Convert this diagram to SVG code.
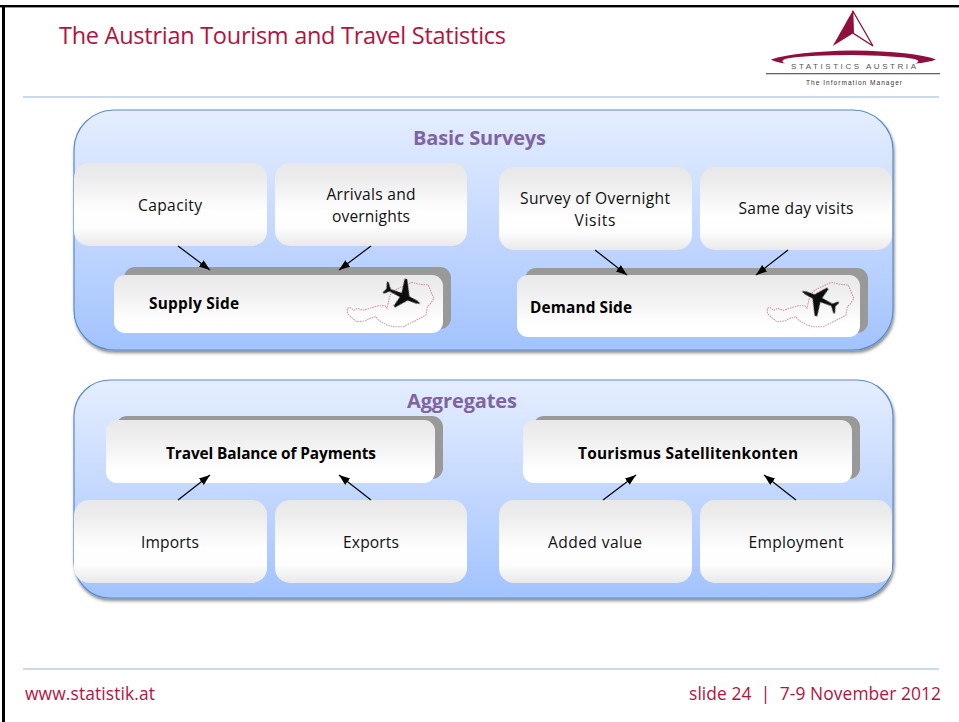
<svg xmlns="http://www.w3.org/2000/svg" width="959" height="722" viewBox="0 0 959 722">
<style>
text{font-family:"Open Sans","Liberation Sans",sans-serif}
.l{font-size:15.6px;fill:#111;text-anchor:middle}
.b{font-size:15.4px;font-weight:700;fill:#000;text-anchor:middle}
.h{font-size:20px;font-weight:700;fill:#8064a2;text-anchor:middle}
.r{font-size:17.4px;fill:#b5123e}
.panel{fill:url(#pg);stroke:#5b8bc9;stroke-width:1.2;filter:url(#sh)}
.node{fill:url(#ng)}
.main{fill:url(#mg)}
.back{fill:#999}
.rule{stroke:#b8cce4;stroke-width:1.6}
.cn{stroke:#000;stroke-width:1.2;fill:none;marker-end:url(#ah)}
.map{fill:none;stroke:#d59aa6;stroke-width:3.2;stroke-dasharray:5 2.5}
</style>
<defs>
<linearGradient id="pg" x1="0" y1="0" x2="0" y2="1"><stop offset="0" stop-color="#e5eeff"/><stop offset=".5" stop-color="#c4d8ff"/><stop offset="1" stop-color="#a2c3fd"/></linearGradient>
<linearGradient id="ng" x1="0" y1="0" x2="0" y2="1"><stop offset="0" stop-color="#e8e8e8"/><stop offset=".18" stop-color="#ececec"/><stop offset=".6" stop-color="#fff"/><stop offset=".78" stop-color="#fdfdfd"/><stop offset="1" stop-color="#e9e9e9"/></linearGradient>
<linearGradient id="mg" x1="0" y1="0" x2="0" y2="1"><stop offset="0" stop-color="#e8e8e8"/><stop offset=".3" stop-color="#efefef"/><stop offset=".8" stop-color="#fff"/></linearGradient>
<filter id="sh" x="-5%" y="-5%" width="110%" height="115%"><feDropShadow dx="1" dy="2.5" stdDeviation="1.8" flood-color="#000" flood-opacity=".45"/></filter>
<filter id="soft"><feGaussianBlur stdDeviation=".35"/></filter>
<marker id="ah" markerUnits="userSpaceOnUse" markerWidth="12" markerHeight="9" refX="11" refY="4" orient="auto"><path d="M0 0L11 4L0 8Z" fill="#000"/></marker>
<path id="plane" filter="url(#soft)" d="M19 0L15 -1.6L6 -2.2L-3 -17L-5.5 -16.5L-2.5 -2.2L-14 -1.3L-19 -7L-20.5 -6.5L-18 0L-20 5L-18.5 5.5L-14 1.3L-2.5 2.2L-4.5 13L-2.5 13.5L6 2.2L15 1.6Z" fill="#0c0c0c"/>
<path id="austria" class="map" d="M22 100L30 97L42 106L52 100L68 106L90 100L115 92L135 92L141 100L150 60L165 45L200 28L215 22L240 28L265 30L275 55L282 70L270 88L262 95L258 120L240 130L220 140L190 155L160 155L140 150L115 135L108 125L90 130L75 138L50 140L35 128L22 115Z"/>
</defs>

<rect width="959" height="722" fill="#fff"/>
<rect x="0" y="5" width="959" height="2.4" fill="#000"/>
<rect x="2" y="5" width="3" height="717" fill="#000"/>

<g id="header">
<text x="59" y="44" style="font-size:23.5px;fill:#b5123e" textLength="447">The Austrian Tourism and Travel Statistics</text>
<line class="rule" x1="23" y1="97" x2="939" y2="97"/>
</g>

<g id="logo">
<path d="M852.7 10.7L832.7 46L853.3 33.3Z" fill="#8f0f3f"/>
<path d="M852.7 10.7L873 46L853.3 33.3Z" fill="none" stroke="#8f0f3f" stroke-width="1.3"/>
<path d="M771 59.5Q795 51.5 853 50.5Q915 51.5 936 59.5Q928 62.5 915 63.5Q925 60 905 57.5Q880 55 853 55Q810 55 790 58Q778 60 785 63.5Q775 62 771 59.5Z" fill="#8f0f3f"/>
<text x="791" y="68.5" textLength="125" style="font-family:'Liberation Sans',sans-serif;font-size:8px;fill:#555">STATISTICS AUSTRIA</text>
<rect x="766" y="73" width="174" height="1.3" fill="#666"/>
<text x="806" y="84.5" textLength="96" style="font-family:'Liberation Sans',sans-serif;font-size:6.5px;fill:#333">The Information Manager</text>
</g>

<g id="panel-basic"><rect class="panel" x="74" y="110" width="819" height="240" rx="40"/>
<text class="h" x="479.5" y="145" textLength="133">Basic Surveys</text></g>
<g id="panel-aggregates"><rect class="panel" x="74" y="380" width="819" height="218" rx="36"/>
<text class="h" x="462" y="408" textLength="110">Aggregates</text></g>

<g id="capacity"><rect class="node" x="74" y="163" width="193" height="83" rx="15"/><text class="l" x="170" y="211" textLength="64">Capacity</text></g>
<g id="arrivals"><rect class="node" x="275" y="163" width="192" height="83" rx="15"/><text class="l" x="371" y="200" textLength="89">Arrivals and</text><text class="l" x="371" y="222" textLength="78">overnights</text></g>
<g id="survey"><rect class="node" x="499" y="167" width="193" height="83" rx="15"/><text class="l" x="595" y="204" textLength="150">Survey of Overnight</text><text class="l" x="595" y="226" textLength="41">Visits</text></g>
<g id="sameday"><rect class="node" x="700" y="167" width="192" height="83" rx="15"/><text class="l" x="796" y="214" textLength="115">Same day visits</text></g>

<g id="supply"><rect class="back" x="124" y="267" width="327" height="62" rx="11"/><rect class="main" x="114" y="275" width="329" height="58" rx="11"/>
<text class="b" x="194" y="309" textLength="90">Supply Side</text>
<use href="#austria" transform="translate(340 275) scale(.3333)"/>
<use href="#plane" transform="translate(403 296) rotate(24)"/></g>

<g id="demand"><rect class="back" x="525" y="268" width="343" height="65" rx="11"/><rect class="main" x="517" y="275" width="343" height="62" rx="11"/>
<text class="b" x="581" y="313" textLength="102">Demand Side</text>
<use href="#austria" transform="translate(760 275) scale(.3333)"/>
<use href="#plane" transform="translate(819 299) rotate(204.5)"/></g>

<g id="travel"><rect class="back" x="116" y="416" width="327" height="63" rx="11"/><rect class="main" x="106" y="420" width="329" height="63" rx="11"/>
<text class="b" x="271" y="459" textLength="210">Travel Balance of Payments</text></g>
<g id="tsa"><rect class="back" x="533" y="416" width="327" height="63" rx="11"/><rect class="main" x="523" y="420" width="329" height="63" rx="11"/>
<text class="b" x="688" y="459" textLength="220">Tourismus Satellitenkonten</text></g>

<g id="imports"><rect class="node" x="74" y="500" width="193" height="83" rx="15"/><text class="l" x="170" y="548" textLength="58">Imports</text></g>
<g id="exports"><rect class="node" x="275" y="500" width="192" height="83" rx="15"/><text class="l" x="371" y="548" textLength="56">Exports</text></g>
<g id="added"><rect class="node" x="499" y="500" width="193" height="83" rx="15"/><text class="l" x="595" y="548" textLength="94">Added value</text></g>
<g id="employment"><rect class="node" x="700" y="500" width="192" height="83" rx="15"/><text class="l" x="796" y="548" textLength="95">Employment</text></g>

<g id="connectors">
<line class="cn" x1="178" y1="246" x2="210" y2="270"/>
<line class="cn" x1="371" y1="246" x2="339" y2="270"/>
<line class="cn" x1="595" y1="250" x2="627" y2="275"/>
<line class="cn" x1="788" y1="250" x2="756" y2="275"/>
<line class="cn" x1="178" y1="500" x2="210" y2="475"/>
<line class="cn" x1="371" y1="500" x2="339" y2="475"/>
<line class="cn" x1="603" y1="500" x2="636" y2="475"/>
<line class="cn" x1="796" y1="500" x2="764" y2="475"/>
</g>

<g id="footer">
<line class="rule" x1="23" y1="669" x2="939" y2="669"/>
<text class="r" x="25" y="700" textLength="130">www.statistik.at</text>
<text class="r" x="689" y="700" textLength="252">slide 24 &#160;|&#160; 7-9 November 2012</text>
</g>
</svg>
